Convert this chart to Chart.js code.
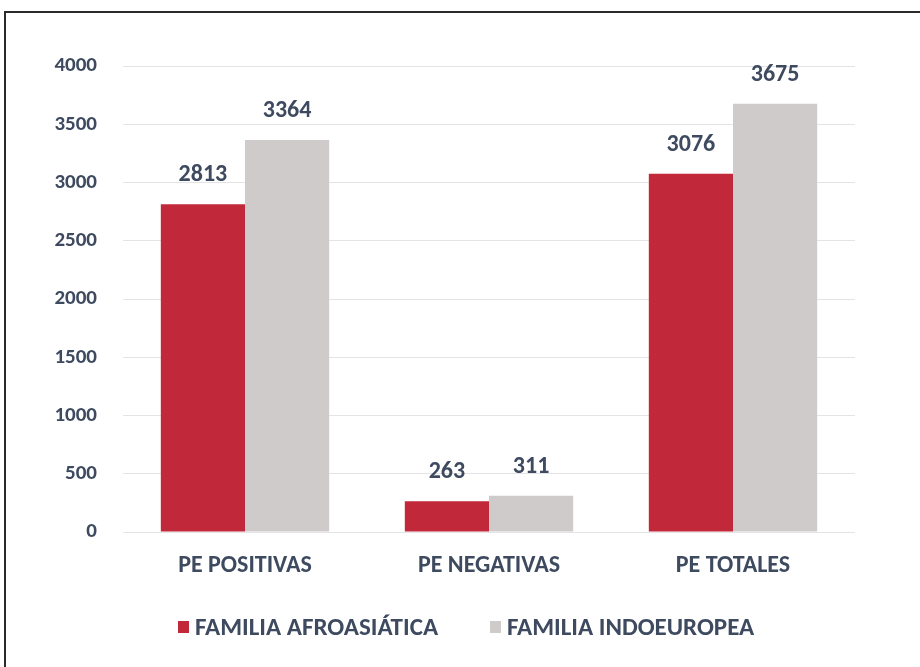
<!DOCTYPE html>
<html>
<head>
<meta charset="utf-8">
<script src="https://cdn.jsdelivr.net/npm/chart.js@4.4.1/dist/chart.umd.min.js"></script>
<style>
  html, body { margin: 0; padding: 0; background: #ffffff; width: 920px; height: 667px; overflow: hidden; }
  #frame { position: absolute; left: 4px; top: 11px; width: 1000px; height: 800px; border-left: 2px solid #2a2a2a; border-top: 2px solid #2a2a2a; box-sizing: border-box; }
  #wrap { position: absolute; left: 0; top: 0; width: 920px; height: 667px; }
  #legend { position: absolute; left: 178px; top: 611px; height: 30px; display: flex; align-items: center;
            font-family: 'Carlito', 'Lato', sans-serif; font-weight: bold; font-size: 25px; color: #3E4A5F; white-space: nowrap; }
  #legend .item { display: flex; align-items: center; }
  #legend .item + .item { margin-left: 52px; }
  #legend .sw { width: 11px; height: 12px; margin-right: 6px; margin-top: 2px; }
</style>
</head>
<body>
<div id="frame"></div>
<div id="wrap"><canvas id="c" width="920" height="667"></canvas></div>
<div id="legend"></div>
<script>
const categories = ["PE POSITIVAS", "PE NEGATIVAS", "PE TOTALES"];
const seriesNames = ["FAMILIA AFROASIÁTICA", "FAMILIA INDOEUROPEA"];
const afroasiatica = [2813, 263, 3076];
const indoeuropea = [3364, 311, 3675];
const yTicks = [0, 500, 1000, 1500, 2000, 2500, 3000, 3500, 4000];
const seriesColors = ["#C1283A", "#CFCBCB"];

const textColor = "#3E4A5F";
const fontFamily = "'Carlito', 'Lato', sans-serif";

const valueLabels = {
  id: "valueLabels",
  afterDatasetsDraw(chart) {
    const ctx = chart.ctx;
    ctx.save();
    ctx.font = "bold 24px " + fontFamily;
    ctx.fillStyle = textColor;
    ctx.textAlign = "center";
    ctx.textBaseline = "alphabetic";
    chart.data.datasets.forEach((ds, i) => {
      const meta = chart.getDatasetMeta(i);
      meta.data.forEach((bar, j) => {
        ctx.fillText(String(ds.data[j]), bar.x, bar.y - 23);
      });
    });
    ctx.restore();
  }
};

const chart = new Chart(document.getElementById("c"), {
  type: "bar",
  data: {
    labels: categories,
    datasets: [
      { label: seriesNames[0], data: afroasiatica, backgroundColor: seriesColors[0], categoryPercentage: 0.69, barPercentage: 1.0 },
      { label: seriesNames[1], data: indoeuropea, backgroundColor: seriesColors[1], categoryPercentage: 0.69, barPercentage: 1.0 }
    ]
  },
  options: {
    responsive: false,
    animation: false,
    layout: { padding: { left: 0, right: 65, top: 66, bottom: 95 } },
    scales: {
      x: {
        grid: { display: false, drawTicks: false },
        border: { display: false },
        ticks: { color: textColor, font: { family: fontFamily, size: 24, weight: "bold" }, padding: 20 },
        afterFit(axis) { axis.height = 40; }
      },
      y: {
        min: 0, max: 4000,
        afterBuildTicks(axis) { axis.ticks = yTicks.map(v => ({ value: v })); },
        grid: { color: "#E4E4E6", lineWidth: 1, drawTicks: false },
        border: { display: false },
        ticks: { color: textColor, font: { family: fontFamily, size: 21, weight: "bold" }, padding: 26,
                 callback: v => String(v) },
        afterFit(axis) { axis.width = 123; }
      }
    },
    plugins: {
      legend: { display: false },
      tooltip: { enabled: false }
    }
  },
  plugins: [valueLabels]
});

const legendEl = document.getElementById("legend");
chart.data.datasets.forEach((ds) => {
  const item = document.createElement("div");
  item.className = "item";
  const sw = document.createElement("span");
  sw.className = "sw";
  sw.style.background = ds.backgroundColor;
  const tx = document.createElement("span");
  tx.textContent = ds.label;
  item.appendChild(sw);
  item.appendChild(tx);
  legendEl.appendChild(item);
});
</script>
</body>
</html>
